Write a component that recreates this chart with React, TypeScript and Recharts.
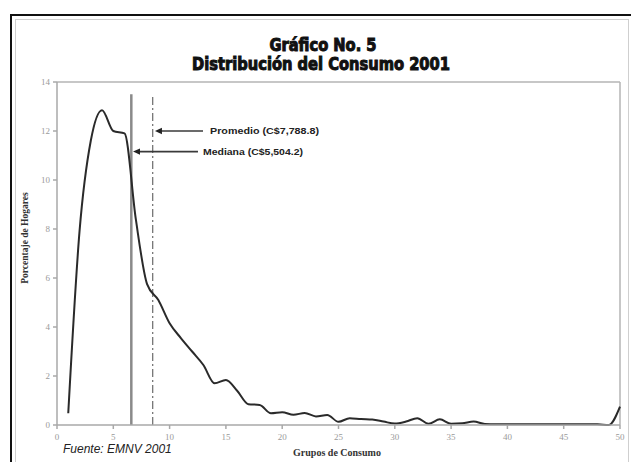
import React from "react";
import {
  ComposedChart,
  Line,
  XAxis,
  YAxis,
  ReferenceLine,
} from "recharts";

// Distribución del consumo 2001 (porcentaje de hogares por grupo de consumo)
const grupos = [
  1, 2, 3, 4, 5, 6, 7, 8, 9, 10, 11, 12, 13, 14, 15, 16, 17, 18, 19, 20, 21, 22, 23, 24, 25,
  26, 27, 28, 29, 30, 31, 32, 33, 34, 35, 36, 37, 38, 39, 40, 41, 42, 43, 44, 45, 46, 47, 48,
  49, 50,
];
const hogares = [
  0.48, 7.9, 11.6, 12.85, 12.0, 11.9, 8.4, 5.75, 5.1, 4.15, 3.55, 3.0, 2.45, 1.7, 1.84, 1.4,
  0.85, 0.82, 0.48, 0.52, 0.42, 0.49, 0.35, 0.41, 0.13, 0.28, 0.24, 0.22, 0.14, 0.06, 0.14,
  0.28, 0.05, 0.23, 0.05, 0.07, 0.14, 0.04, 0.03, 0.03, 0.03, 0.03, 0.03, 0.03, 0.03, 0.03,
  0.03, 0.03, 0.0, 0.75,
];
const xTicks = [0, 5, 10, 15, 20, 25, 30, 35, 40, 45, 50];
const yTicks = [0, 2, 4, 6, 8, 10, 12, 14];

// posiciones de la mediana y el promedio sobre el eje de grupos
const medianaX = 6.6;
const promedioX = 8.5;
const lineaTope = 13.5;
const medianaTexto = "Mediana (C$5,504.2)";
const promedioTexto = "Promedio (C$7,788.8)";
const promedioFlecha = { y: 12.0, desde: 8.7, hasta: 12.97 };
const medianaFlecha = { y: 11.16, desde: 6.75, hasta: 12.52 };

const data = grupos.map((g, i) => ({ grupo: g, valor: hogares[i] }));

const tickStyle = { fontSize: 9, fill: "#9a9a9a", fontFamily: "'Liberation Serif', serif" };

function makeArrow(text: string, gap: number, width: number) {
  return (props: any) => {
    const { x1, y1, x2, y2 } = props;
    const left = Math.min(x1, x2);
    const right = Math.max(x1, x2);
    return (
      <g>
        <line x1={left + 5} y1={y1} x2={right} y2={y2} stroke="#3a3a3a" strokeWidth={1.7} />
        <polygon
          points={`${left},${y1} ${left + 7},${y1 - 3.2} ${left + 7},${y1 + 3.2}`}
          fill="#222"
        />
        <text
          x={right + gap}
          y={y1}
          dominantBaseline="central"
          fontSize={9}
          fontWeight={700}
          fontFamily="'Liberation Sans', Arial, sans-serif"
          fill="#222"
          textLength={width}
          lengthAdjust="spacingAndGlyphs"
        >
          {text}
        </text>
      </g>
    );
  };
}

export default function App() {
  return (
    <div
      style={{
        position: "absolute",
        left: 0,
        top: 0,
        width: 631,
        height: 462,
        overflow: "hidden",
        background: "#fff",
      }}
    >
      <div
        style={{
          position: "absolute",
          left: 10,
          top: 14,
          width: 640,
          height: 470,
          border: "2px solid #111",
        }}
      />
      <div
        style={{
          position: "absolute",
          left: 15,
          top: 19,
          width: 612,
          height: 470,
          border: "1px solid #cfcfcf",
        }}
      />
      <div style={{ position: "absolute", left: 0, top: 0 }}>
        <ComposedChart
          width={631}
          height={462}
          data={data}
          margin={{ top: 82, right: 11, bottom: 7, left: 17 }}
        >
          <XAxis
            dataKey="grupo"
            type="number"
            domain={[0, 50]}
            ticks={xTicks}
            height={30}
            tick={tickStyle}
            tickSize={4}
            tickMargin={5}
            stroke="#a8a8a8"
            strokeWidth={1.5}
          />
          <YAxis
            type="number"
            domain={[0, 14]}
            ticks={yTicks}
            width={40}
            tick={tickStyle}
            tickSize={4}
            tickMargin={3}
            stroke="#a8a8a8"
            strokeWidth={1.5}
          />
          <ReferenceLine y={14} stroke="#b5b5b5" strokeWidth={1.5} />
          <ReferenceLine x={50} stroke="#b5b5b5" strokeWidth={1.5} />
          <ReferenceLine
            segment={[
              { x: medianaX, y: 0 },
              { x: medianaX, y: lineaTope },
            ]}
            stroke="#8a8a8a"
            strokeWidth={2.5}
          />
          <ReferenceLine
            segment={[
              { x: promedioX, y: 0 },
              { x: promedioX, y: lineaTope },
            ]}
            stroke="#6a6a6a"
            strokeWidth={1.2}
            strokeDasharray="8 3 2 3"
          />
          <ReferenceLine
            segment={[
              { x: promedioFlecha.desde, y: promedioFlecha.y },
              { x: promedioFlecha.hasta, y: promedioFlecha.y },
            ]}
            shape={makeArrow(promedioTexto, 7, 109)}
          />
          <ReferenceLine
            segment={[
              { x: medianaFlecha.desde, y: medianaFlecha.y },
              { x: medianaFlecha.hasta, y: medianaFlecha.y },
            ]}
            shape={makeArrow(medianaTexto, 5, 100)}
          />
          <Line
            type="monotone"
            dataKey="valor"
            stroke="#2a2a2a"
            strokeWidth={2}
            dot={false}
            isAnimationActive={false}
          />
        </ComposedChart>
      </div>
      <svg
        width={631}
        height={462}
        style={{ position: "absolute", left: 0, top: 0, pointerEvents: "none" }}
      >
        <g
          fontFamily="'Liberation Sans Narrow', 'DejaVu Sans Condensed', sans-serif"
          fontWeight={700}
          fontSize={18}
          fill="#111"
          stroke="#111"
          strokeWidth={1}
          textAnchor="middle"
        >
          <text x={323} y={51} textLength={107} lengthAdjust="spacingAndGlyphs">
            Gráfico No. 5
          </text>
          <text x={321} y={70} textLength={258} lengthAdjust="spacingAndGlyphs">
            Distribución del Consumo 2001
          </text>
        </g>
        <text
          x={25}
          y={238}
          transform="rotate(-90 25 238)"
          textAnchor="middle"
          dominantBaseline="central"
          fontFamily="'Liberation Serif', serif"
          fontWeight={700}
          fontSize={9.5}
          fill="#333"
        >
          Porcentaje de Hogares
        </text>
        <text
          x={337}
          y={456}
          textAnchor="middle"
          fontFamily="'Liberation Serif', serif"
          fontWeight={700}
          fontSize={10}
          fill="#333"
        >
          Grupos de Consumo
        </text>
        <text
          x={63}
          y={453}
          fontFamily="'Liberation Sans', Arial, sans-serif"
          fontStyle="italic"
          fontSize={12}
          fill="#222"
        >
          Fuente: EMNV 2001
        </text>
      </svg>
    </div>
  );
}
